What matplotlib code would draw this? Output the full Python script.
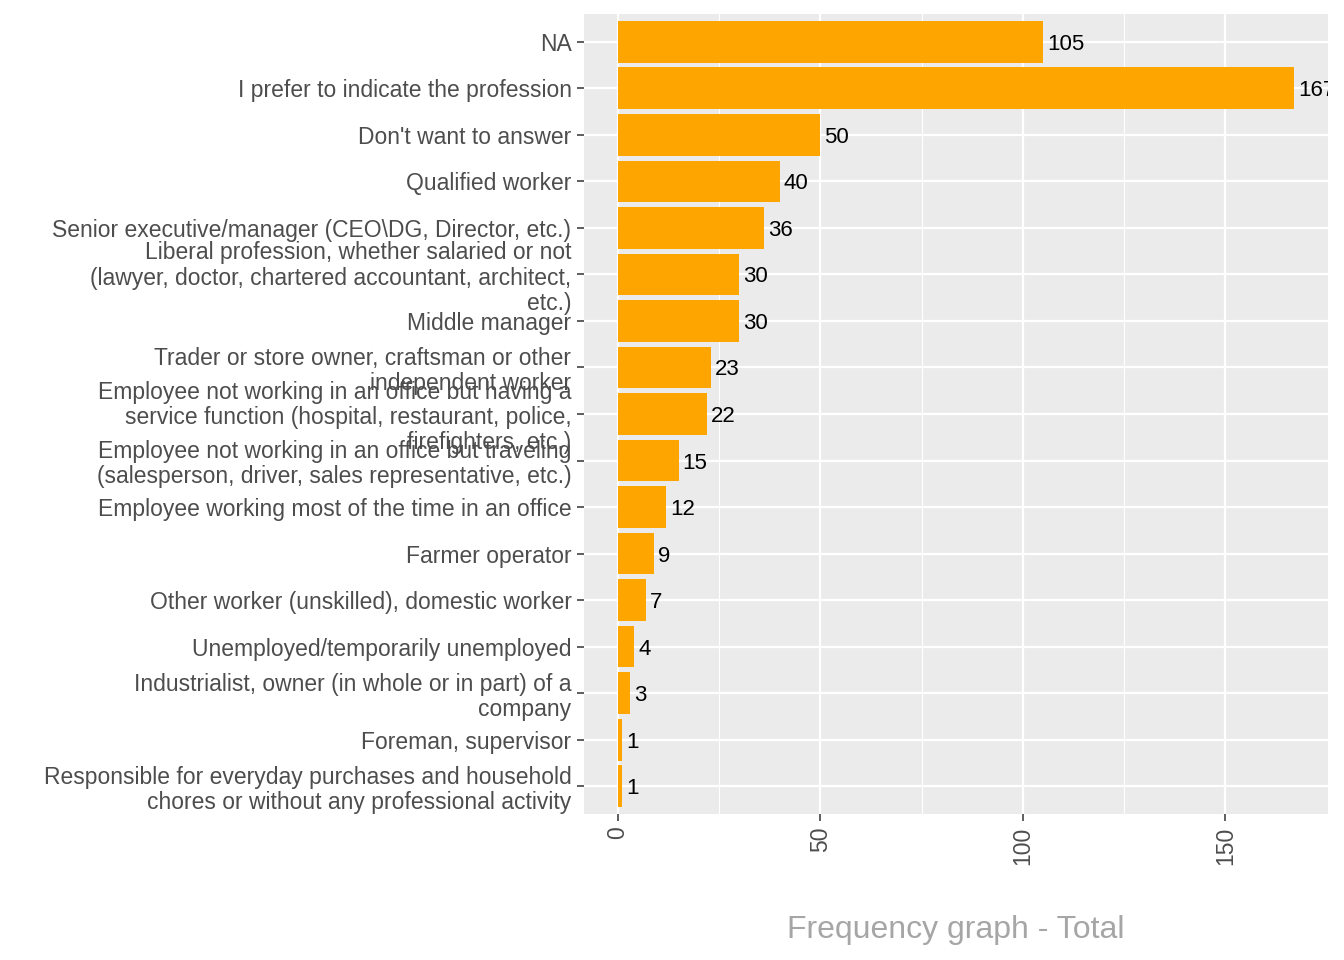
import matplotlib
matplotlib.use('Agg')
import matplotlib.pyplot as plt
import numpy as np

###############################################################################################
# Data (top to bottom)

professions = [
    'NA',
    'I prefer to indicate the profession',
    "Don't want to answer",
    'Qualified worker',
    'Senior executive/manager (CEO\\DG, Director, etc.)',
    'Liberal profession, whether salaried or not\n(lawyer, doctor, chartered accountant, architect,\netc.)',
    'Middle manager',
    'Trader or store owner, craftsman or other\nindependent worker',
    'Employee not working in an office but having a\nservice function (hospital, restaurant, police,\nfirefighters, etc.)',
    'Employee not working in an office but traveling\n(salesperson, driver, sales representative, etc.)',
    'Employee working most of the time in an office',
    'Farmer operator',
    'Other worker (unskilled), domestic worker',
    'Unemployed/temporarily unemployed',
    'Industrialist, owner (in whole or in part) of a\ncompany',
    'Foreman, supervisor',
    'Responsible for everyday purchases and household\nchores or without any professional activity',
]
counts = [105, 167, 50, 40, 36, 30, 30, 23, 22, 15, 12, 9, 7, 4, 3, 1, 1]

x_ticks = [0, 50, 100, 150]
x_minor = [25, 75, 125]
title = 'Frequency graph - Total'

###############################################################################################
# Plot

plt.rcParams['font.family'] = ['Liberation Sans', 'DejaVu Sans']

fig = plt.figure(figsize=(13.44, 9.6), dpi=100)
ax = fig.add_axes([584 / 1344, 1 - 814 / 960, (1328 - 584) / 1344, (814 - 14) / 960])

pos = np.arange(len(professions), 0, -1)

ax.set_facecolor('#EBEBEB')
ax.barh(pos, counts, height=0.9, color='#FFA500', zorder=3)

# Value labels (clipped to the panel, like ggplot)
for p, c in zip(pos, counts):
    t = ax.annotate(str(c), (c, p), xytext=(3, 0), textcoords='offset points',
                    ha='left', va='center_baseline', fontsize=16, color='black', zorder=4)
    t.set_clip_path(ax.patch)
    t.set_clip_on(True)

# Axes
ax.set_xlim(-0.05 * max(counts), 1.05 * max(counts))
ax.set_ylim(0.4, len(professions) + 0.6)
ax.set_xticks(x_ticks)
ax.set_xticks(x_minor, minor=True)
ax.set_xticklabels([str(t) for t in x_ticks], rotation=90, va='top')
ax.set_yticks(pos)
ax.set_yticklabels(professions, linespacing=1.12)

ax.tick_params(axis='both', which='major', length=5, width=1.1, color='#333333',
               labelsize=16.5, labelcolor='#4D4D4D')
ax.tick_params(axis='x', which='minor', length=0)
ax.tick_params(axis='y', pad=4)
ax.tick_params(axis='x', pad=4)

ax.grid(True, which='major', color='white', linewidth=1.6, zorder=0)
ax.grid(True, which='minor', axis='x', color='white', linewidth=0.8, zorder=0)
ax.set_axisbelow(True)
for s in ax.spines.values():
    s.set_visible(False)

fig.text(956 / 1344, 1 - 930 / 960, title, ha='center', va='center',
         fontsize=23, color='#A6A6A6')

fig.savefig('out.png', dpi=100)
